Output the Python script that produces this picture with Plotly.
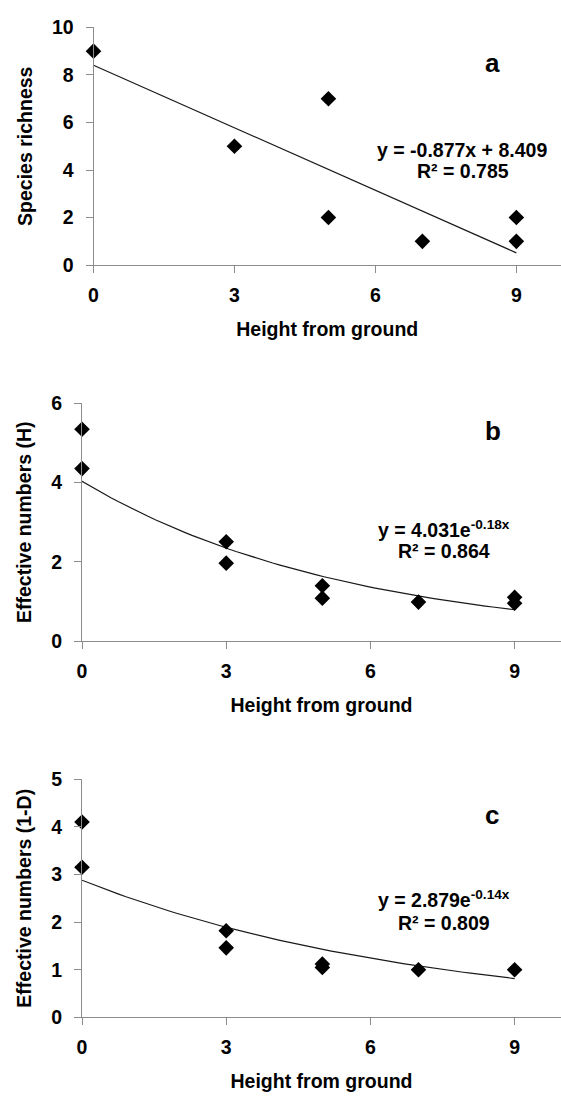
import numpy as np
import plotly.graph_objects as go

# ---------------- data ----------------
height_a = [0, 3, 5, 5, 7, 9, 9]
richness = [9, 5, 7, 2, 1, 2, 1]

height_b = [0, 0, 3, 3, 5, 5, 7, 9, 9]
eff_H = [5.34, 4.35, 2.51, 1.97, 1.40, 1.09, 0.99, 1.11, 0.96]

height_c = [0, 0, 3, 3, 5, 5, 7, 9]
eff_D = [4.10, 3.15, 1.82, 1.46, 1.12, 1.05, 1.00, 1.00]

lin_a = (-0.877, 8.409)     # slope, intercept
exp_b = (4.031, -0.18)      # a * exp(b x)
exp_c = (2.879, -0.14)

eq_a = ["y = -0.877x + 8.409", "R² = 0.785"]
eq_b = ["y = 4.031e<sup>-0.18x</sup>", "R² = 0.864"]
eq_c = ["y = 2.879e<sup>-0.14x</sup>", "R² = 0.809"]
panel_labels = ["a", "b", "c"]
y_titles = ["Species richness", "Effective numbers (H)", "Effective numbers (1-D)"]
x_title = "Height from ground"
x_ticks = [0, 3, 6, 9]

# ---------------- styling ----------------
FONT = "Arial, Liberation Sans, Helvetica, sans-serif"
FS = 19.5
AXCOL = "#8c8c8c"
H = 1101
W = 561

xfit = np.linspace(0, 9, 60)
fit_a = lin_a[0] * xfit + lin_a[1]
fit_b = exp_b[0] * np.exp(exp_b[1] * xfit)
fit_c = exp_c[0] * np.exp(exp_c[1] * xfit)

fig = go.Figure()

panels = [
    dict(xs=height_a, ys=richness, fit=fit_a, ax="", yr=[0, 10], dt=2,
         xdom=[89.3 / W, 1.0], xr=[0, 9.95], ypx=(259.3, 16.7)),
    dict(xs=height_b, ys=eff_H, fit=fit_b, ax="2", yr=[0, 6], dt=2,
         xdom=[77.7 / W, 1.0], xr=[0, 9.965], ypx=(643.3, 400.0)),
    dict(xs=height_c, ys=eff_D, fit=fit_c, ax="3", yr=[0, 5], dt=1,
         xdom=[77.7 / W, 1.0], xr=[0, 9.965], ypx=(1027.0, 783.7)),
]

for i, p in enumerate(panels):
    xa = "x" + p["ax"]
    ya = "y" + p["ax"]
    fig.add_trace(go.Scatter(x=xfit, y=p["fit"], mode="lines",
                             line=dict(color="#1a1a1a", width=1.2),
                             xaxis=xa, yaxis=ya, showlegend=False,
                             hoverinfo="skip", cliponaxis=False))
    fig.add_trace(go.Scatter(x=p["xs"], y=p["ys"], mode="markers",
                             marker=dict(symbol="diamond", size=12, color="black"),
                             xaxis=xa, yaxis=ya, showlegend=False,
                             cliponaxis=False))
    ydom = [1 - p["ypx"][0] / H, 1 - p["ypx"][1] / H]
    axis_common = dict(showline=True, linecolor=AXCOL, linewidth=1,
                       ticks="outside", tickcolor=AXCOL, ticklen=7, tickwidth=1,
                       showgrid=False, zeroline=False,
                       tickfont=dict(family=FONT, size=FS, color="black", weight="bold"))
    fig.layout["xaxis" + p["ax"]] = dict(
        domain=p["xdom"], range=p["xr"], anchor=ya, tickvals=x_ticks,
        ticklabelstandoff=5,
        title=dict(text=x_title, standoff=17,
                   font=dict(family=FONT, size=FS, color="black", weight="bold")),
        **axis_common)
    fig.layout["yaxis" + p["ax"]] = dict(
        domain=ydom, range=p["yr"], anchor=xa, dtick=p["dt"], tick0=0,
        ticklabelstandoff=8,
        title=dict(text=y_titles[i], standoff=14,
                   font=dict(family=FONT, size=FS, color="black", weight="bold")),
        **axis_common)

ann = []
eq_pos = [((7.84, 4.85), (7.86, 3.97), (8.49, 8.52)),
          ((7.54, 2.83), (7.54, 2.28), (8.54, 5.29)),
          ((7.54, 2.48), (7.54, 1.99), (8.52, 4.25))]
eqs = [eq_a, eq_b, eq_c]
for i, p in enumerate(panels):
    xr = "x" + p["ax"]
    yr = "y" + p["ax"]
    (l1, l2, lab) = eq_pos[i]
    ann.append(dict(x=l1[0], y=l1[1], xref=xr, yref=yr, text=eqs[i][0], showarrow=False,
                    font=dict(family=FONT, size=FS, color="black", weight="bold")))
    ann.append(dict(x=l2[0], y=l2[1], xref=xr, yref=yr, text=eqs[i][1], showarrow=False,
                    font=dict(family=FONT, size=FS, color="black", weight="bold")))
    ann.append(dict(x=lab[0], y=lab[1], xref=xr, yref=yr, text=panel_labels[i], showarrow=False,
                    font=dict(family=FONT, size=26, color="black", weight="bold")))

fig.update_layout(width=W, height=H, autosize=False,
                  margin=dict(l=0, r=0, t=0, b=0),
                  paper_bgcolor="white", plot_bgcolor="white",
                  annotations=ann, showlegend=False)

fig.write_html("out.html", config={"displayModeBar": False},
               post_script="document.body.style.margin='0';")
